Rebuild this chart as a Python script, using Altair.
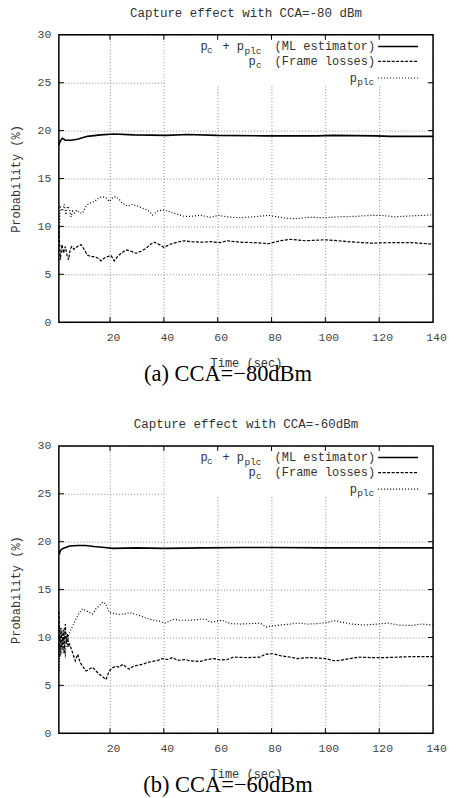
import altair as alt
import pandas as pd

# ---------------- data ----------------
# Panel (a) CCA = -80 dBm
a_ml_t = [1, 1.5, 2.3, 3.5, 5.4, 7.9, 11.6, 16.5, 21.5, 28.9, 41, 48.6, 59.8, 78.3, 96.8, 103, 119, 124, 140]
a_ml_v = [18.5, 18.9, 19.2, 19.0, 19.0, 19.1, 19.4, 19.55, 19.65, 19.55, 19.5, 19.6, 19.5, 19.45, 19.45, 19.5, 19.45, 19.4, 19.4]

a_c_t = [1, 1.5, 2.2, 2.7, 3.4, 4.0, 4.6, 5.2, 5.8, 6.7, 7.9, 9.2, 10.4, 11.6, 12.9, 14.2, 15.4, 16.7, 17.9,
         19.1, 20.4, 21.6, 22.8, 24.1, 26.0, 27.8, 29.6, 31.5, 33.3, 35.2, 36.4, 38.3, 40.1, 42.0, 43.8, 45.7,
         47.6, 49.9, 53.6, 57.3, 61.0, 63.5, 68.4, 73.4, 78.9, 83.2, 86.9, 92.5, 99.9, 104.8, 111, 117.2, 124,
         132, 140]
a_c_v = [10.0, 6.5, 8.1, 7.2, 7.9, 7.0, 6.5, 7.6, 7.9, 7.6, 7.9, 8.1, 7.6, 7.0, 6.85, 6.85, 6.7, 6.4, 6.7,
         6.85, 6.95, 6.4, 6.85, 7.2, 7.55, 7.4, 7.2, 7.4, 7.7, 8.15, 8.35, 8.1, 7.8, 8.1, 8.25, 8.4,
         8.5, 8.4, 8.35, 8.4, 8.3, 8.5, 8.35, 8.3, 8.2, 8.5, 8.65, 8.5, 8.6, 8.5, 8.35, 8.25, 8.3,
         8.3, 8.15]

a_plc_t = [1, 1.5, 2.4, 3.0, 3.6, 4.2, 4.8, 5.5, 6.1, 6.7, 7.6, 8.6, 9.8, 11.1, 12.3, 14.2, 16.0, 17.3, 18.5,
           19.7, 21.0, 22.2, 23.5, 24.7, 26.6, 28.4, 30.3, 32.1, 34.0, 35.8, 37.7, 39.5, 41.4, 43.2, 45.7,
           47.6, 49.9, 53.6, 57.3, 60.4, 63.5, 68.4, 73.4, 78.9, 82.0, 85.7, 89.4, 93.8, 99.9, 104.8, 111,
           117.2, 120.9, 125.8, 132, 140]
a_plc_v = [8.5, 12.0, 11.6, 12.3, 11.2, 12.1, 11.9, 11.0, 11.6, 11.4, 11.7, 11.4, 11.4, 12.1, 12.4, 12.6, 13.0,
           13.1, 13.0, 12.6, 13.0, 13.1, 12.8, 12.4, 12.1, 12.3, 12.1, 11.9, 11.7, 11.2, 11.6, 11.7, 11.6,
           11.4, 11.2, 11.05, 11.05, 11.15, 10.95, 11.15, 11.0, 10.9, 11.0, 11.15, 11.0, 10.85, 10.8, 10.95,
           10.9, 11.0, 11.05, 11.15, 11.15, 11.0, 11.1, 11.2]

# Panel (b) CCA = -60 dBm
b_ml_t = [1, 1.3, 1.6, 2.5, 5, 8, 11, 14, 18, 21, 30, 40, 55, 70, 80, 100, 120, 140]
b_ml_v = [19.0, 18.8, 19.1, 19.3, 19.55, 19.6, 19.6, 19.5, 19.4, 19.3, 19.35, 19.3, 19.35, 19.4, 19.4, 19.35, 19.35, 19.35]

b_c_t = [1, 1.4, 1.8, 2.2, 2.6, 3.0, 3.4, 3.8, 4.2, 4.6, 5.0, 6.1, 7.1, 8.0, 8.9, 9.8, 11.1, 12.3, 13.5, 14.8,
         16.0, 17.3, 18.5, 19.7, 21.0, 22.2, 23.5, 24.7, 26.0, 27.2, 28.7, 30.3, 32.1, 34.0, 35.8, 37.7, 39.5,
         41.4, 43.2, 45.1, 47.6, 49.9, 53.6, 56.1, 58.5, 61.0, 63.5, 65.9, 70.9, 75.8, 77.7, 80.7, 83.2, 86.9,
         89.4, 93.7, 99.9, 103.6, 107.3, 112.2, 117.2, 122.1, 127, 132, 137, 140]
b_c_v = [12.7, 8.0, 11.0, 8.8, 10.8, 8.3, 11.4, 9.4, 10.4, 9.0, 9.3, 8.4, 7.55, 8.25, 7.4, 7.0, 6.5, 6.7, 6.9,
         6.5, 6.15, 5.9, 5.6, 6.5, 6.85, 7.0, 6.9, 7.2, 6.9, 6.7, 7.0, 7.1, 7.2, 7.4, 7.5, 7.6, 7.8, 7.7,
         7.9, 7.6, 7.7, 7.55, 7.5, 7.7, 7.8, 7.65, 7.7, 7.95, 7.9, 7.95, 8.25, 8.3, 8.1, 7.95, 7.8, 7.9,
         7.8, 7.55, 7.7, 7.95, 7.9, 7.9, 7.95, 8.0, 8.0, 8.0]

b_plc_t = [1, 1.4, 1.8, 2.2, 2.6, 3.0, 3.4, 3.8, 4.2, 4.6, 5.0, 6.1, 7.3, 8.6, 9.8, 11.1, 12.3, 13.5, 14.8,
           16.0, 17.3, 18.5, 19.7, 21.6, 23.5, 25.3, 27.2, 29.1, 30.9, 32.8, 34.7, 36.5, 38.3, 40.2, 42.0,
           43.9, 45.7, 47.6, 49.9, 53.6, 55.4, 57.3, 59.8, 61.6, 64.7, 68.4, 72.1, 75.8, 78.0, 80.1, 83.2,
           86.9, 89.4, 93.7, 97.4, 101.1, 103.6, 106.0, 109.7, 114.7, 119.6, 123.3, 127.0, 132.0, 135.7, 140]
b_plc_v = [6.5, 11.0, 8.2, 10.6, 8.4, 11.0, 7.9, 10.0, 9.0, 10.3, 10.5, 11.2, 11.9, 12.6, 13.0, 12.8, 12.6,
           12.45, 13.0, 13.3, 13.7, 13.5, 12.6, 12.5, 12.4, 12.45, 12.6, 12.45, 12.3, 12.1, 11.9, 11.8, 11.7,
           11.5, 11.7, 11.9, 11.8, 11.8, 11.8, 11.9, 11.9, 11.6, 11.7, 11.8, 11.45, 11.4, 11.45, 11.5, 11.1,
           11.2, 11.3, 11.4, 11.5, 11.4, 11.45, 11.6, 11.75, 11.6, 11.4, 11.3, 11.4, 11.5, 11.3, 11.25, 11.4, 11.3]

x_tick_values = [20, 40, 60, 80, 100, 120, 140]
y_tick_values = [0, 5, 10, 15, 20, 25, 30]

titles = ["Capture effect with CCA=-80 dBm", "Capture effect with CCA=-60dBm"]
captions = ["(a) CCA=\u221280dBm", "(b) CCA=\u221260dBm"]

# ---------------- styling ----------------
MONO = "Liberation Mono"
SERIF = "Liberation Serif"
W, H = 375, 288
TXT = "#333333"


def panel(title, caption, ml_t, ml_v, c_t, c_v, p_t, p_v):
    xs = alt.Scale(domain=[1, 140], nice=False, zero=False)
    ys = alt.Scale(domain=[0, 30], nice=False, zero=False)
    xaxis = alt.Axis(values=x_tick_values, title="Time (sec)", grid=True, gridColor="#8a8a8a",
                     gridDash=[1, 2], gridWidth=1, tickSize=0, domain=False, labelFont=MONO,
                     labelFontSize=11.5, labelColor="#444444", labelPadding=9, labelOffset=3,
                     labelFlush=False, labelOverlap=False, titleFont=MONO, titleFontSize=12,
                     titleFontWeight="normal", titleColor=TXT, titlePadding=15)
    yaxis = alt.Axis(values=y_tick_values, title="Probability (%)", grid=True, gridColor="#8a8a8a",
                     gridDash=[1, 2], gridWidth=1, tickSize=0, domain=False, labelFont=MONO,
                     labelFontSize=11.5, labelColor="#444444", labelPadding=8, labelOverlap=False,
                     titleFont=MONO, titleFontSize=12, titleFontWeight="normal", titleColor=TXT,
                     titlePadding=15)
    X = alt.X("t:Q", scale=xs, axis=xaxis)
    Y = alt.Y("v:Q", scale=ys, axis=yaxis)
    one = pd.DataFrame({"k": [0]})

    def line(ts, vs, width, dash=None):
        df = pd.DataFrame({"t": ts, "v": vs})
        kw = dict(color="black", strokeWidth=width)
        if dash is not None:
            kw["strokeDash"] = dash
        return alt.Chart(df).mark_line(**kw).encode(x=X, y=Y)

    layers = [
        line(ml_t, ml_v, 1.6),
        line(c_t, c_v, 1.2, [3, 1.5]),
        line(p_t, p_v, 1.2, [1, 2]),
        # legend background
        alt.Chart(one).mark_rect(color="white").encode(
            x=alt.value(106), x2=alt.value(370), y=alt.value(1), y2=alt.value(51)),
    ]

    # inward ticks
    ydf = pd.DataFrame({"v": y_tick_values[1:-1]})
    xdf = pd.DataFrame({"t": x_tick_values[:-1]})
    layers += [
        alt.Chart(ydf).mark_rule(color="black", strokeWidth=1).encode(y=Y, x=alt.value(0), x2=alt.value(5)),
        alt.Chart(ydf).mark_rule(color="black", strokeWidth=1).encode(y=Y, x=alt.value(W - 5), x2=alt.value(W)),
        alt.Chart(xdf).mark_rule(color="black", strokeWidth=1).encode(x=X, y=alt.value(H - 5), y2=alt.value(H)),
        alt.Chart(xdf).mark_rule(color="black", strokeWidth=1).encode(x=X, y=alt.value(0), y2=alt.value(5)),
    ]

    # frame
    layers.append(alt.Chart(one).mark_rect(fillOpacity=0, stroke="black", strokeWidth=1.5).encode(
        x=alt.value(0), x2=alt.value(W), y=alt.value(0), y2=alt.value(H)))

    # legend text pieces (main + subscripts)
    pieces = [
        ("p", 142, 15, 12, "left"), ("c", 148.5, 18, 9.5, "left"), ("+ p", 164, 15, 12, "left"),
        ("plc", 186, 19, 9.5, "left"), ("(ML estimator)", 317, 15, 12, "right"),
        ("p", 190, 30, 12, "left"), ("c", 197.5, 33, 9.5, "left"), ("(Frame losses)", 317, 30, 12, "right"),
        ("p", 291.5, 47, 12, "left"), ("plc", 299, 50, 9.5, "left"),
    ]
    for txt, px, py, fs, al in pieces:
        layers.append(alt.Chart(one).mark_text(text=txt, font=MONO, fontSize=fs, align=al,
                                               baseline="alphabetic", color=TXT).encode(
            x=alt.value(px), y=alt.value(py)))

    # legend samples
    for yy, dash, w in [(11.7, None, 1.6), (26.7, [3, 1.5], 1.2), (43.3, [1, 2], 1.2)]:
        kw = dict(color="black", strokeWidth=w)
        if dash is not None:
            kw["strokeDash"] = dash
        layers.append(alt.Chart(one).mark_rule(**kw).encode(
            x=alt.value(320), x2=alt.value(360), y=alt.value(yy)))

    # caption
    layers.append(alt.Chart(one).mark_text(text=caption, font=SERIF, fontSize=22.5, align="center",
                                           baseline="alphabetic", color="black").encode(
        x=alt.value(169.5), y=alt.value(H + 59)))

    return alt.layer(*layers).properties(
        width=W, height=H,
        title=alt.TitleParams(title, font=MONO, fontSize=12.5, fontWeight="normal", color=TXT,
                              anchor="middle", frame="group", offset=9),
    )


top = panel(titles[0], captions[0], a_ml_t, a_ml_v, a_c_t, a_c_v, a_plc_t, a_plc_v)
bottom = panel(titles[1], captions[1], b_ml_t, b_ml_v, b_c_t, b_c_v, b_plc_t, b_plc_v)

chart = alt.vconcat(top, bottom, spacing=32).properties(
    padding={"left": 8, "top": 6, "right": 2, "bottom": 2},
    background="white",
).configure_view(stroke="transparent")

chart.save("out.html", embed_options={"renderer": "svg", "actions": False})
